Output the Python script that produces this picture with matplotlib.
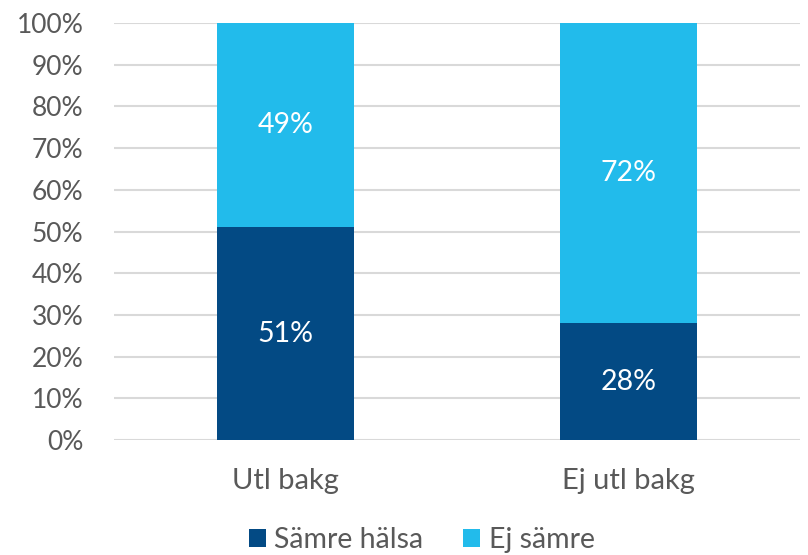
import matplotlib.pyplot as plt
import numpy as np
from matplotlib.ticker import PercentFormatter

categories = ["Utl bakg", "Ej utl bakg"]
samre_halsa = [51, 28]
ej_samre = [49, 72]
series_names = ["Sämre hälsa", "Ej sämre"]

dark = "#034A84"
light = "#22BBEB"
grey = "#595959"

plt.rcParams['font.family'] = ['Lato', 'DejaVu Sans']

fig = plt.figure(figsize=(8.08, 5.55), dpi=100)
ax = fig.add_axes([0.141, 0.207, 0.849, 0.7516])

x = np.arange(len(categories))
b1 = ax.bar(x, samre_halsa, width=0.4, color=dark, label=series_names[0], zorder=3)
b2 = ax.bar(x, ej_samre, width=0.4, bottom=samre_halsa, color=light, label=series_names[1], zorder=3)

for bars, vals, bottoms in [(b1, samre_halsa, [0, 0]), (b2, ej_samre, samre_halsa)]:
    for rect, v, b in zip(bars, vals, bottoms):
        ax.text(rect.get_x() + rect.get_width() / 2, b + v / 2, f"{v}%",
                ha="center", va="center", color="white", fontsize=20.5)

ax.set_xlim(-0.5, 1.5)
ax.set_ylim(0, 100)
ax.set_yticks(range(0, 101, 10))
ax.yaxis.set_major_formatter(PercentFormatter(decimals=0))
ax.set_xticks(x)
ax.set_xticklabels(categories)
ax.tick_params(axis="both", length=0, colors=grey)
ax.tick_params(axis="x", pad=20, labelsize=21)
ax.tick_params(axis="y", pad=22, labelsize=19)
ax.grid(axis="y", color="#D9D9D9", linewidth=1.5, zorder=0)
for s in ax.spines.values():
    s.set_visible(False)

leg = fig.legend(loc="center", bbox_to_anchor=(0.522, 0.027), ncol=2, frameon=False,
                 fontsize=20.5, handlelength=0.6, handleheight=0.6, handletextpad=0.3,
                 columnspacing=1.4, labelcolor=grey)

fig.savefig("out.png", dpi=100)
